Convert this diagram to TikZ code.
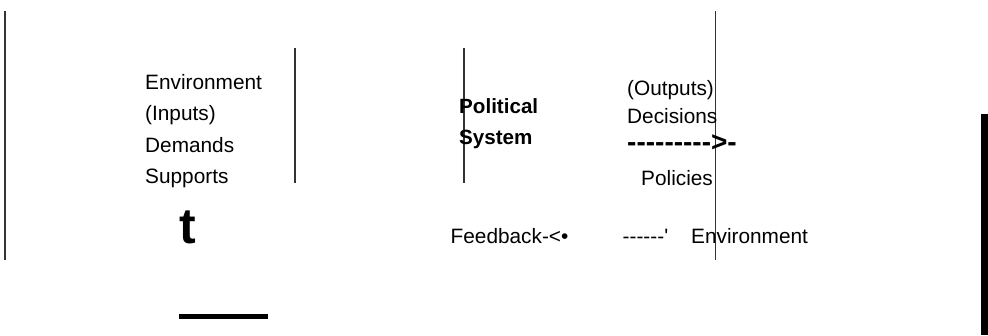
\documentclass[tikz,border=0pt]{standalone}
\usepackage{fontspec}
\setmainfont{Liberation Sans}
\newcommand{\hy}{-\kern0pt}
\begin{document}
\begin{tikzpicture}[x=1pt,y=-1pt,
  lbl/.style={anchor=base west,inner sep=0pt,font=\fontsize{20.8}{24}\selectfont},
  bld/.style={lbl,font=\fontsize{20.6}{24}\selectfont\bfseries},
  rule/.style={draw=black!80,line width=1.3pt}]
\useasboundingbox (0,0) rectangle (988,335);
% vertical rules
\draw[rule] (5,11) -- (5,260);
\draw[rule] (295,48) -- (295,183);
\draw[rule] (464,48) -- (464,183);
\draw[rule] (715.5,11) -- (715.5,260);
% solid bars
\fill[black] (981,114) rectangle (988,335);
\fill[black] (179,314) rectangle (268,319);
% inputs column
\node[lbl] (env1) at (145,89) {Environment};
\node[lbl] (inp) at (145,120.5) {(Inputs)};
\node[lbl] (dem) at (145,152.5) {Demands};
\node[lbl] (sup) at (145,183) {Supports};
\node[anchor=base west,inner sep=0pt,font=\fontsize{50}{55}\selectfont\bfseries] (tmark) at (179.5,243) {t};
% system
\node[bld] (pol) at (459,113.5) {Political};
\node[bld] (sys) at (459,144.5) {System};
% outputs column
\node[lbl] (out) at (627,95) {(Outputs)};
\node[lbl] (dec) at (627,123.3) {Decisions};
\node[anchor=base west,inner sep=0pt,font=\fontsize{28}{32}\selectfont\bfseries] (arr) at (627,151.8) {\hy\hy\hy\hy\hy\hy\hy\hy\hy>\hy};
\node[lbl] (polc) at (641,185) {Policies};
% feedback row
\node[lbl] (fb) at (450.5,243.5) {Feedback-<•};
\node[lbl] (dsh) at (622.5,243.5) {\hy\hy\hy\hy\hy\hy\textquotesingle};
\node[lbl] (env2) at (691,243.5) {Environment};
\end{tikzpicture}
\end{document}
